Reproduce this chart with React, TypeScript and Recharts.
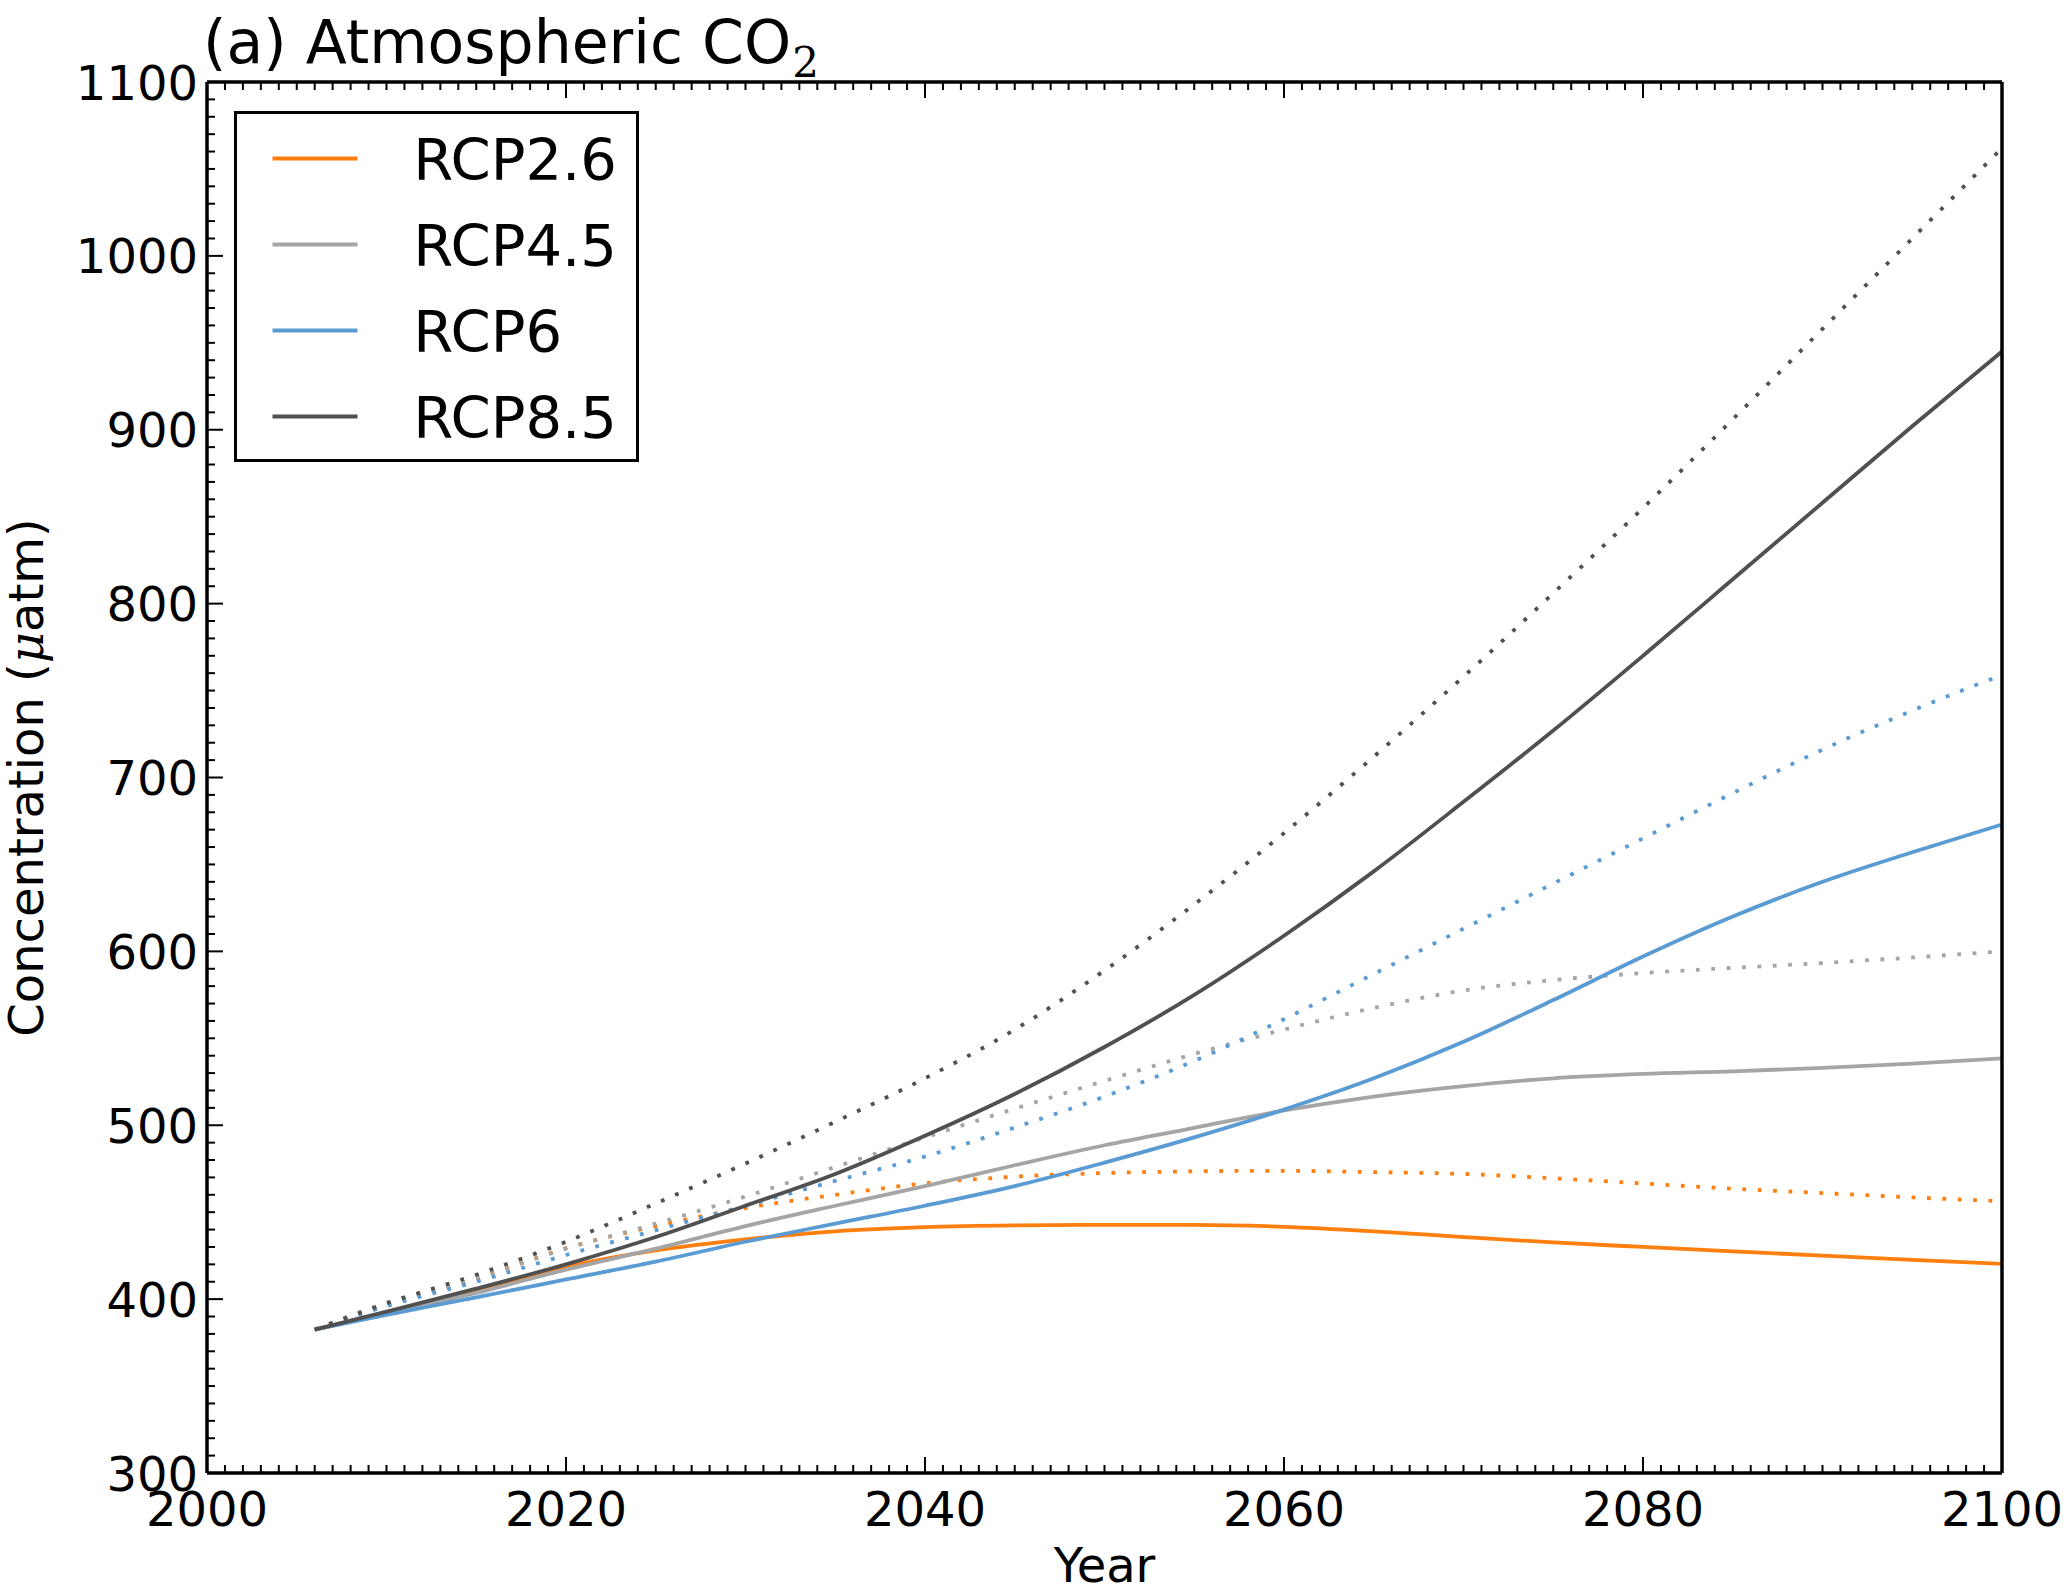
import React from 'react';
import { LineChart, Line, XAxis, YAxis, Legend } from 'recharts';

// ---- data ----
const years = [2006, 2010, 2015, 2020, 2025, 2030, 2035, 2040, 2045, 2050, 2055, 2060, 2065, 2070, 2075, 2080, 2085, 2090, 2095, 2100];

const rcp26 = [382.5, 391.8, 404, 418.5, 428, 434.4, 439, 441.4, 442.4, 442.7, 442.7, 441.6, 439, 435.7, 432.6, 430, 427.5, 425, 422.6, 420.3];
const rcp45 = [382.5, 392, 403.6, 417, 429, 442, 453.7, 465, 477, 488.5, 498.5, 508.5, 516.5, 522.5, 527, 529.5, 531, 533, 535.5, 538.5];
const rcp6 = [382.5, 391, 401, 411.3, 421.6, 433, 443.4, 453.7, 465, 478.5, 493, 509, 527, 548, 572, 597, 620, 640, 657, 673];
const rcp85 = [382.5, 392.8, 406, 420, 435.7, 453.7, 472, 494, 518, 545, 575, 609, 646, 686, 727, 770, 814, 858, 902, 945];

const rcp26Dot = [382.5, 397, 411.8, 429.3, 442, 452.4, 460, 466.6, 470.4, 472.5, 473.5, 473.8, 473, 472, 469.5, 466.5, 463.5, 461, 458.5, 456.3];
const rcp45Dot = [382.5, 398, 411.8, 429, 443.4, 459, 476, 493, 509.5, 525.5, 541, 555, 567.5, 577.5, 583.5, 587.5, 590.5, 593.3, 596.5, 600];
const rcp6Dot = [382.5, 396, 410, 425.4, 439.6, 453.7, 468, 482, 498.7, 516.5, 537, 561, 587, 613, 639, 665, 691, 716, 738.5, 759];
const rcp85Dot = [382.5, 397.5, 414, 433, 455, 478, 502, 527, 555, 589, 627, 668, 712, 758, 806, 855, 906, 958, 1010, 1062];

const seriesNames = ['RCP2.6', 'RCP4.5', 'RCP6', 'RCP8.5'];
const seriesKeys = ['rcp26', 'rcp45', 'rcp6', 'rcp85'];
const seriesColors = ['#ff7f0e', '#a5a5a5', '#5a9bd4', '#505050'];
const solidValues = [rcp26, rcp45, rcp6, rcp85];
const dottedValues = [rcp26Dot, rcp45Dot, rcp6Dot, rcp85Dot];

// tick positions (major ticks carry labels, the rest are minor ticks)
const xMajorTicks = [2000, 2020, 2040, 2060, 2080, 2100];
const yMajorTicks = [300, 400, 500, 600, 700, 800, 900, 1000, 1100];
const xAllTicks: number[] = [];
for (let t = 2000; t <= 2100; t += 1) xAllTicks.push(t);
const yAllTicks: number[] = [];
for (let t = 300; t <= 1100; t += 10) yAllTicks.push(t);

const data = years.map((yr, i) => {
  const row: Record<string, number> = { year: yr };
  seriesKeys.forEach((k, j) => {
    row[k] = solidValues[j][i];
    row[k + 'Dot'] = dottedValues[j][i];
  });
  return row;
});

// ---- styling ----
const FONT = '"DejaVu Sans", sans-serif';
const SERIF = '"DejaVu Serif", serif';
const TICK_FONT = 48;
const TITLE_FONT = 60;
const LEGEND_FONT = 57.6;
const MAJOR = 16;
const MINOR = 8;
const TICK_W = 2;
const SPINE = { stroke: '#000', strokeWidth: 3.5 };

const isXMajor = (v: number) => xMajorTicks.indexOf(v) >= 0;
const isYMajor = (v: number) => yMajorTicks.indexOf(v) >= 0;

const BottomTick = (p: any) => {
  const v = p.payload.value;
  const major = isXMajor(v);
  return (
    <g>
      <line x1={p.x} x2={p.x} y1={p.y} y2={p.y - (major ? MAJOR : MINOR)} stroke="#000" strokeWidth={TICK_W} />
      {major && (
        <text x={p.x} y={p.y + 53} textAnchor="middle" fontSize={TICK_FONT} fontFamily={FONT} fill="#000">
          {v}
        </text>
      )}
    </g>
  );
};
const TopTick = (p: any) => {
  const major = isXMajor(p.payload.value);
  return <line x1={p.x} x2={p.x} y1={p.y} y2={p.y + (major ? MAJOR : MINOR)} stroke="#000" strokeWidth={TICK_W} />;
};
const LeftTick = (p: any) => {
  const v = p.payload.value;
  const major = isYMajor(v);
  return (
    <g>
      <line x1={p.x} x2={p.x + (major ? MAJOR : MINOR)} y1={p.y} y2={p.y} stroke="#000" strokeWidth={TICK_W} />
      {major && (
        <text x={p.x - 9} y={p.y} dy={17.5} textAnchor="end" fontSize={TICK_FONT} fontFamily={FONT} fill="#000">
          {v}
        </text>
      )}
    </g>
  );
};
const RightTick = (p: any) => {
  const major = isYMajor(p.payload.value);
  return <line x1={p.x} x2={p.x - (major ? MAJOR : MINOR)} y1={p.y} y2={p.y} stroke="#000" strokeWidth={TICK_W} />;
};

const TitleLabel = (p: any) => {
  const vb = p.viewBox || { x: 207, y: 81, height: 1 };
  const top = vb.y + (vb.height || 0);
  return (
    <text x={vb.x - 4} y={top - 19} fontSize={TITLE_FONT} fontFamily={FONT} fill="#000">
      <tspan>(a) Atmospheric CO</tspan>
      <tspan fontFamily={SERIF} fontSize={42} dx={1} dy={14}>2</tspan>
    </text>
  );
};

const XLabel = (p: any) => {
  const vb = p.viewBox || { x: 207, y: 1473, width: 1795 };
  return (
    <text x={vb.x + vb.width / 2} y={vb.y + 109} textAnchor="middle" fontSize={TICK_FONT} fontFamily={FONT} fill="#000">
      Year
    </text>
  );
};

const YLabel = (p: any) => {
  const vb = p.viewBox || { x: 206, y: 82, width: 1, height: 1391 };
  const left = vb.x + (vb.width || 0);
  const cx = left - 164.5;
  const cy = vb.y + vb.height / 2;
  return (
    <text x={cx} y={cy} textAnchor="middle" fontSize={TICK_FONT} fontFamily={FONT} fill="#000" transform={`rotate(-90, ${cx}, ${cy})`}>
      <tspan>Concentration (</tspan>
      <tspan fontFamily={SERIF} fontStyle="italic">μ</tspan>
      <tspan>atm)</tspan>
    </text>
  );
};

const LegendContent = (props: any) => {
  const payload = (props.payload || []).filter((e: any) => e.type !== 'none');
  return (
    <div
      style={{
        position: 'absolute',
        left: 234,
        top: 111,
        width: 405,
        height: 351,
        border: '3.5px solid #000',
        boxSizing: 'border-box',
        background: '#fff',
      }}
    >
      <svg width={398} height={344} style={{ display: 'block' }}>
        {payload.map((e: any, i: number) => {
          const cy = 44.5 + i * 86;
          return (
            <g key={e.value}>
              <line x1={35.5} x2={120.5} y1={cy} y2={cy} stroke={e.color} strokeWidth={3.8} />
              <text x={176.3} y={cy + 21} fontSize={LEGEND_FONT} fontFamily={FONT} fill="#000">
                {e.value}
              </text>
            </g>
          );
        })}
      </svg>
    </div>
  );
};

export default function App() {
  return (
    <div style={{ position: 'absolute', left: 0, top: 0, fontFamily: FONT, background: '#fff' }}>
      <LineChart
        width={2067}
        height={1595}
        data={data}
        margin={{ top: 81, right: 64, bottom: 121, left: 206 }}
      >
        <XAxis
          xAxisId="main"
          dataKey="year"
          type="number"
          domain={[2000, 2100]}
          ticks={xAllTicks}
          interval={0}
          height={1}
          tickSize={0}
          tickMargin={0}
          tickLine={false}
          axisLine={SPINE}
          tick={BottomTick}
          allowDataOverflow
          label={<XLabel />}
        />
        <XAxis
          xAxisId="top"
          orientation="top"
          dataKey="year"
          type="number"
          domain={[2000, 2100]}
          ticks={xAllTicks}
          interval={0}
          height={1}
          tickSize={0}
          tickMargin={0}
          tickLine={false}
          axisLine={SPINE}
          tick={TopTick}
          label={<TitleLabel />}
        />
        <YAxis
          yAxisId="main"
          type="number"
          domain={[300, 1100]}
          ticks={yAllTicks}
          interval={0}
          width={1}
          tickSize={0}
          tickMargin={0}
          tickLine={false}
          axisLine={SPINE}
          tick={LeftTick}
          allowDataOverflow
          label={<YLabel />}
        />
        <YAxis
          yAxisId="right"
          orientation="right"
          type="number"
          domain={[300, 1100]}
          ticks={yAllTicks}
          interval={0}
          width={1}
          tickSize={0}
          tickMargin={0}
          tickLine={false}
          axisLine={SPINE}
          tick={RightTick}
        />

        {seriesKeys.map((k, j) => (
          <Line
            key={k + 'Dot'}
            xAxisId="main"
            yAxisId="main"
            type="monotone"
            dataKey={k + 'Dot'}
            stroke={seriesColors[j]}
            strokeWidth={3.8}
            strokeDasharray="3.8 11.6"
            dot={false}
            activeDot={false}
            legendType="none"
            isAnimationActive={false}
          />
        ))}
        {seriesKeys.map((k, j) => (
          <Line
            key={k}
            xAxisId="main"
            yAxisId="main"
            type="monotone"
            dataKey={k}
            name={seriesNames[j]}
            stroke={seriesColors[j]}
            strokeWidth={3.8}
            dot={false}
            activeDot={false}
            legendType="line"
            isAnimationActive={false}
          />
        ))}

        <Legend
          content={<LegendContent />}
          wrapperStyle={{ position: 'absolute', left: 0, top: 0, width: 0, height: 0 }}
        />
      </LineChart>
    </div>
  );
}
